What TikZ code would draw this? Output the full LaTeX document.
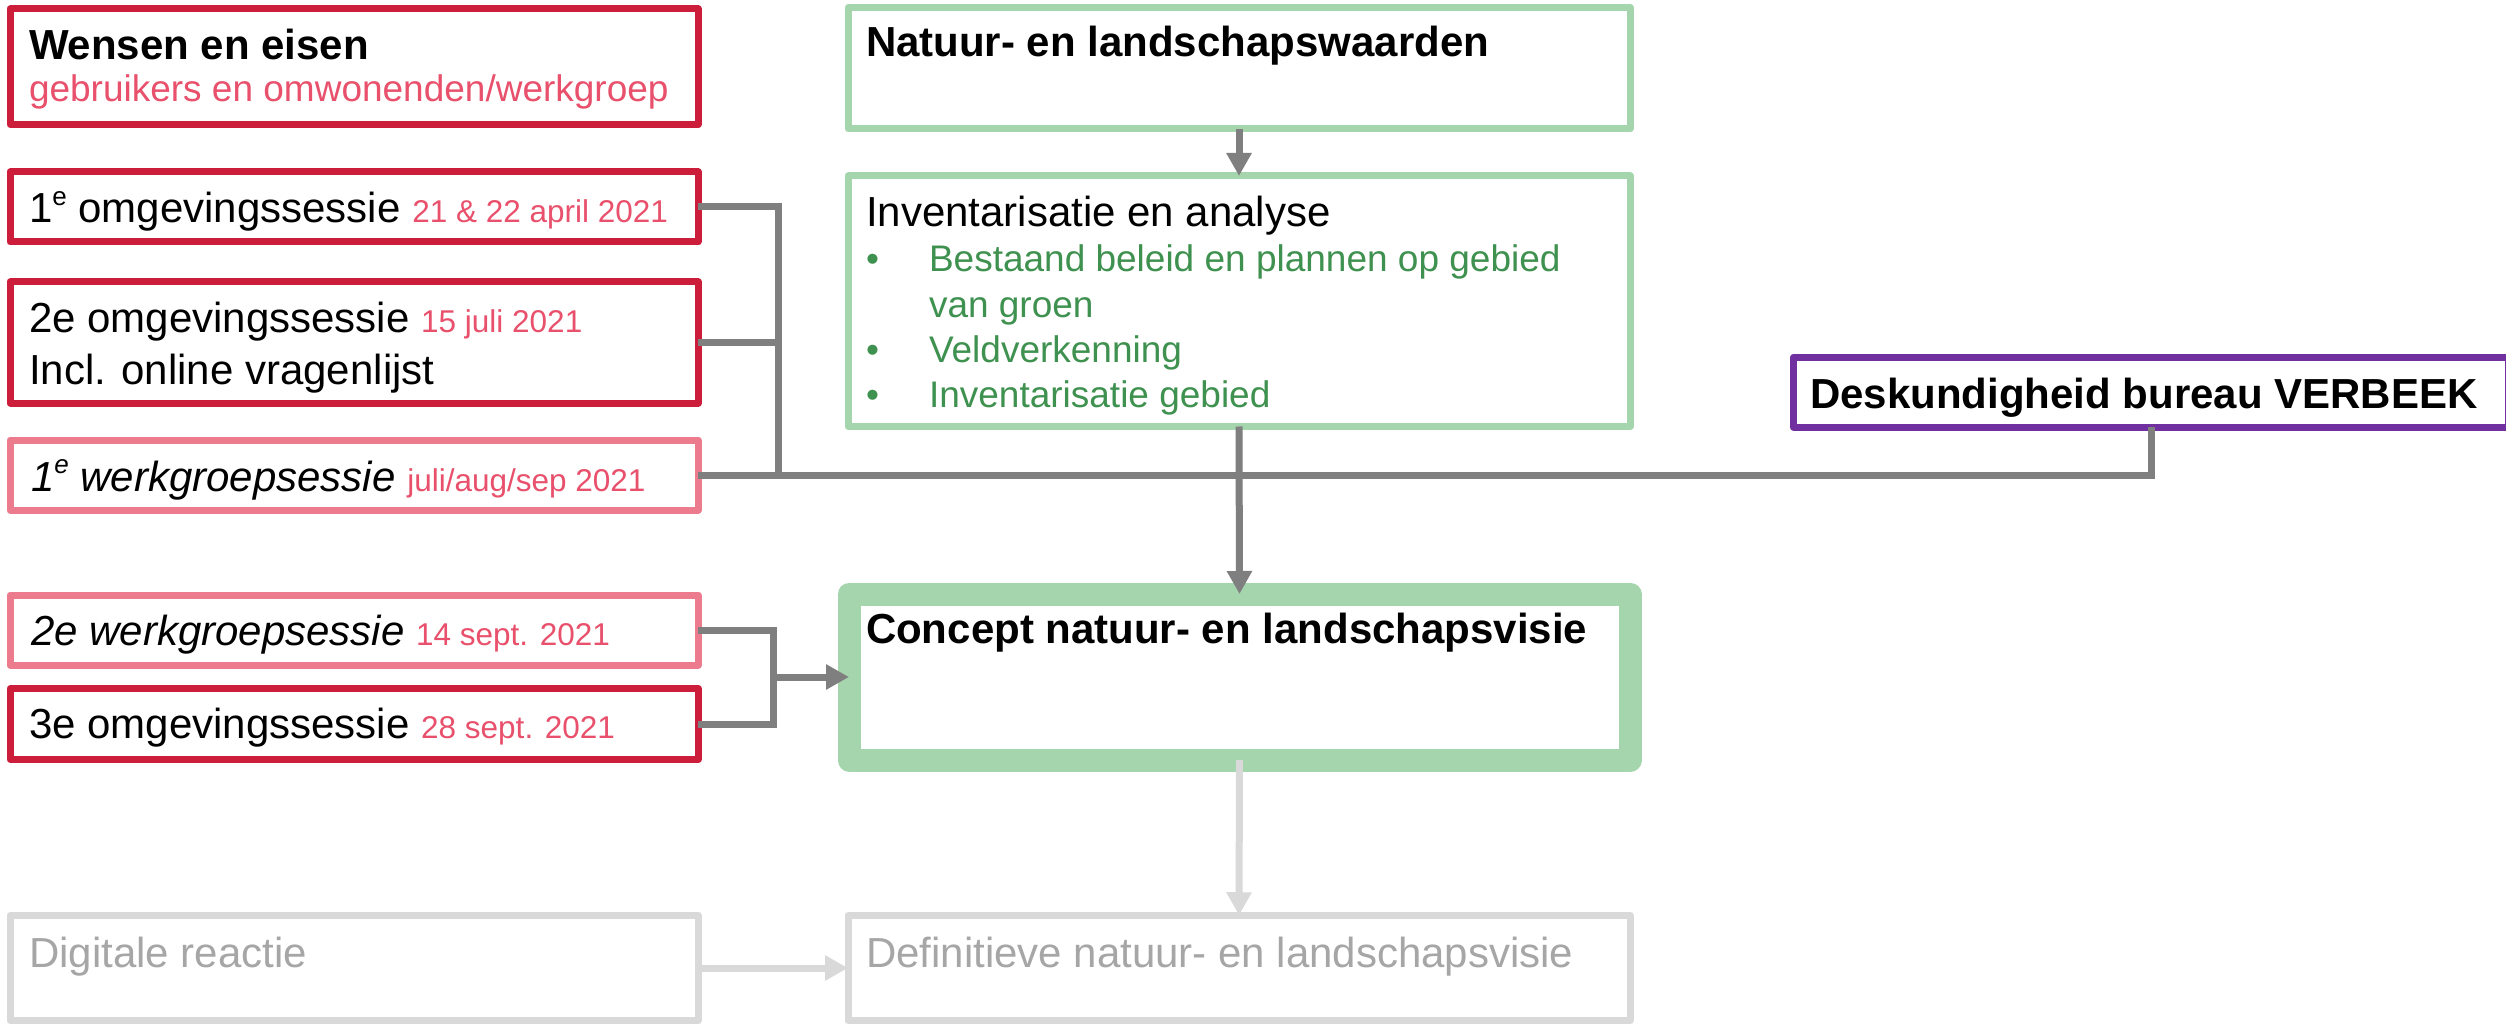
\documentclass[tikz,border=0pt]{standalone}
\usepackage{fontspec}
\setmainfont{Liberation Sans}
\usetikzlibrary{arrows.meta}
\definecolor{redb}{RGB}{204,30,58}
\definecolor{pinkb}{RGB}{236,123,142}
\definecolor{pinkt}{RGB}{232,80,108}
\definecolor{greenb}{RGB}{165,213,173}
\definecolor{greent}{RGB}{63,145,80}
\definecolor{purpb}{RGB}{112,48,160}
\definecolor{conngray}{RGB}{127,127,127}
\definecolor{lgray}{RGB}{217,217,217}
\definecolor{tgray}{RGB}{166,166,166}
\newcommand{\fszA}{\fontsize{42}{50}\selectfont}
\newcommand{\fszB}{\fontsize{37}{45}\selectfont}
\newcommand{\fszC}{\fontsize{31.5}{38}\selectfont}
\newcommand{\supE}{\raisebox{0.42em}{\fontsize{26}{26}\selectfont e}}
\begin{document}
\begin{tikzpicture}[x=1pt,y=-1pt,
  box/.style={draw, fill=white, rectangle, inner sep=0pt, outer sep=0pt, line width=7pt, line join=round},
  redbox/.style={box, draw=redb, minimum width=688pt},
  pinkbox/.style={box, draw=pinkb, minimum width=688pt},
  greenbox/.style={box, draw=greenb, minimum width=782pt},
  graybox/.style={box, draw=lgray, minimum width=782pt},
  lbl/.style={anchor=base west, inner sep=0pt, outer sep=0pt, font=\fszA, align=left},
  cline/.style={draw=conngray, line width=7pt},
  carrow/.style={cline, -{Triangle[length=23pt,width=24pt]}},
  larrow/.style={draw=lgray, line width=7pt, -{Triangle[length=23pt,width=24pt]}},
]
\fill[white] (0,0) rectangle (2506,1024);
\useasboundingbox (0,0) rectangle (2506,1024);

% left column boxes
\node[redbox, minimum height=115.5pt] (wensen) at (354,66.75) {};
\node[redbox, minimum height=70pt] (o1) at (354,207) {};
\node[redbox, minimum height=121pt] (o2) at (354,342.5) {};
\node[pinkbox, minimum height=70pt] (w1) at (354,475) {};
\node[pinkbox, minimum height=70pt] (w2) at (354,630) {};
\node[redbox, minimum height=71pt] (o3) at (354,724) {};
\node[box, draw=lgray, minimum width=688pt, minimum height=105.5pt] (dig) at (354,968) {};

% right column boxes
\node[greenbox, minimum height=121.5pt] (natuur) at (1239,68.25) {};
\node[greenbox, minimum height=250.5pt] (inv) at (1239,301.25) {};
\node[box, draw=greenb, line width=23pt, minimum width=781pt, minimum height=166pt] (concept) at (1239.5,677) {};
\node[graybox, minimum height=105.5pt] (def) at (1239,968) {};
\node[box, draw=purpb, minimum width=715pt, minimum height=70pt] (desk) at (2151,392) {};

% texts
\node[lbl, font=\fszA\bfseries] (t1) at (29,60) {Wensen en eisen};
\node[lbl, font=\fszB, text=pinkt] (t2) at (29,102) {gebruikers en omwonenden/werkgroep};
\node[lbl] (t3) at (29,223) {1\supE{} omgevingssessie {\fszC\color{pinkt}21 \& 22 april 2021}};
\node[lbl] (t4) at (29,333) {2e omgevingssessie {\fszC\color{pinkt}15 juli 2021}};
\node[lbl] (t4b) at (29,384) {Incl. online vragenlijst};
\node[lbl] (t5) at (31,491) {\itshape 1\supE{} werkgroepsessie {\upshape\fszC\color{pinkt}juli/aug/sep 2021}};
\node[lbl] (t6) at (31,645) {\itshape 2e werkgroepsessie {\upshape\fszC\color{pinkt}14 sept. 2021}};
\node[lbl] (t7) at (29,738) {3e omgevingssessie {\fszC\color{pinkt}28 sept. 2021}};
\node[lbl, text=tgray] (t8) at (29,967) {Digitale reactie};

\node[lbl, font=\fszA\bfseries] (t9) at (866,57) {Natuur- en landschapswaarden};
\node[lbl] (t10) at (866,227) {Inventarisatie en analyse};
\node[lbl, font=\fszB, text=greent] (b1) at (866,272) {\textbullet};
\node[lbl, font=\fszB, text=greent] (b1t) at (929,272) {Bestaand beleid en plannen op gebied};
\node[lbl, font=\fszB, text=greent] (b1u) at (929,317) {van groen};
\node[lbl, font=\fszB, text=greent] (b2) at (866,362) {\textbullet};
\node[lbl, font=\fszB, text=greent] (b2t) at (929,362) {Veldverkenning};
\node[lbl, font=\fszB, text=greent] (b3) at (866,407) {\textbullet};
\node[lbl, font=\fszB, text=greent] (b3t) at (929,407) {Inventarisatie gebied};
\node[lbl, font=\fszA\bfseries] (t11) at (866,643) {Concept natuur- en landschapsvisie};
\node[lbl, text=tgray] (t12) at (866,967) {Definitieve natuur- en landschapsvisie};
\node[lbl, font=\fszA\bfseries] (t13) at (1810,408) {Deskundigheid bureau VERBEEK};

% connectors
\coordinate (jA) at (778,475);
\coordinate (jB) at (773,677);
\draw[cline] (o1.east) -| (jA);
\draw[cline] (o2.east) -- (o2.east -| jA);
\draw[cline] (w1.east) -| (desk.south);
\draw[carrow] (natuur.south) -- (inv.north);
\draw[carrow] (inv.south) -- (concept.north);
\draw[cline] (w2.east) -| (jB);
\draw[cline] (o3.east) -| (jB);
\draw[carrow] (jB) -- (concept.west);
\draw[larrow] (concept.south) -- (def.north);
\draw[larrow] (dig.east) -- (def.west);
\end{tikzpicture}
\end{document}
